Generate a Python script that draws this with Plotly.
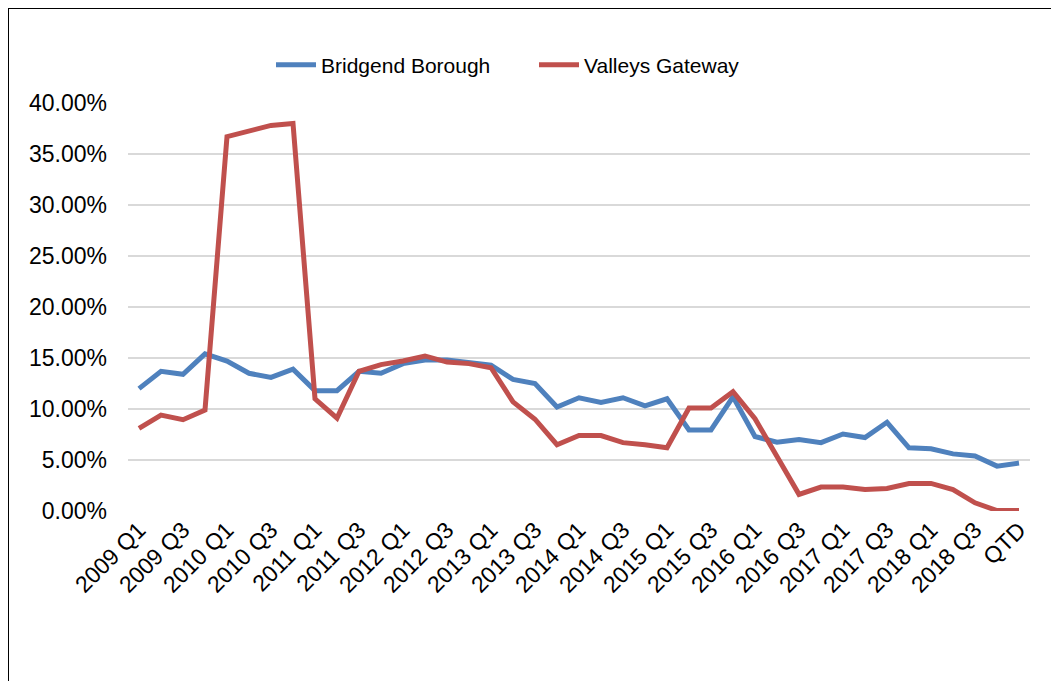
import plotly.graph_objects as go

quarters = [f"{y} Q{q}" for y in range(2009, 2019) for q in range(1, 5)] + ["QTD"]
tick_labels = quarters[::2]

bridgend = [12.0, 13.7, 13.4, 15.4, 14.7, 13.5, 13.1, 13.9, 11.8, 11.8,
            13.7, 13.5, 14.45, 14.8, 14.8, 14.6, 14.3, 12.9, 12.5, 10.2,
            11.1, 10.65, 11.1, 10.3, 11.0, 7.95, 7.95, 11.2, 7.3, 6.75,
            7.0, 6.7, 7.55, 7.2, 8.7, 6.2, 6.1, 5.6, 5.4, 4.4, 4.7]
valleys = [8.1, 9.4, 8.95, 9.9, 36.7, 37.2, 37.8, 38.0, 11.0, 9.1,
           13.7, 14.35, 14.7, 15.2, 14.6, 14.45, 14.05, 10.7, 9.0, 6.5,
           7.4, 7.4, 6.7, 6.5, 6.2, 10.1, 10.1, 11.7, 9.05, 5.35,
           1.63, 2.35, 2.35, 2.1, 2.2, 2.7, 2.7, 2.1, 0.8, 0.05, 0.05]

fig = go.Figure()
fig.add_trace(go.Scatter(x=quarters, y=[v / 100 for v in bridgend], mode="lines",
                         name="Bridgend Borough",
                         line=dict(color="#4F81BD", width=5)))
fig.add_trace(go.Scatter(x=quarters, y=[v / 100 for v in valleys], mode="lines",
                         name="Valleys Gateway",
                         line=dict(color="#C0504D", width=5)))

OFF = 8  # page body margin
W, H = 1059, 681
# plot area in page pixels: left 128, right 1030, top 103, bottom 511
L, T = 128 - OFF, 103 - OFF
R = W - (1030 - OFF)
B = H - (511 - OFF)
pw, ph = W - L - R, H - T - B


def px_x(p):
    return (p - OFF - L) / pw


def px_y(p):
    return (H - B - (p - OFF)) / ph


fig.update_layout(
    width=W, height=H,
    margin=dict(l=L, r=R, t=T, b=B, autoexpand=False),
    paper_bgcolor="white", plot_bgcolor="white",
    font=dict(family="Liberation Sans, Arial, sans-serif", size=21, color="black"),
    showlegend=True,
    legend=dict(orientation="h", x=px_x(271), y=px_y(65), xanchor="left",
                yanchor="middle", font=dict(size=21), itemwidth=40,
                entrywidth=208, bgcolor="rgba(0,0,0,0)"),
    xaxis=dict(type="category", range=[-0.5, 40.5], tickmode="array",
               tickvals=tick_labels, ticktext=tick_labels, tickangle=-45,
               showgrid=False, showline=False, zeroline=False, ticks="",
               tickfont=dict(size=23)),
    yaxis=dict(range=[0, 0.4], tickvals=[i * 0.05 for i in range(9)],
               tickformat=".2%", showgrid=True, gridcolor="#D9D9D9", gridwidth=1.5,
               zeroline=False, showline=False, ticks="", ticklabelstandoff=20,
               tickfont=dict(size=23)),
    shapes=[
        dict(type="line", xref="paper", yref="paper", x0=px_x(8), x1=px_x(8),
             y0=px_y(7), y1=px_y(720), line=dict(color="black", width=2)),
        dict(type="line", xref="paper", yref="paper", x0=px_x(8), x1=px_x(1100),
             y0=px_y(8), y1=px_y(8), line=dict(color="black", width=2)),
    ],
)

fig.write_html("out.html")
